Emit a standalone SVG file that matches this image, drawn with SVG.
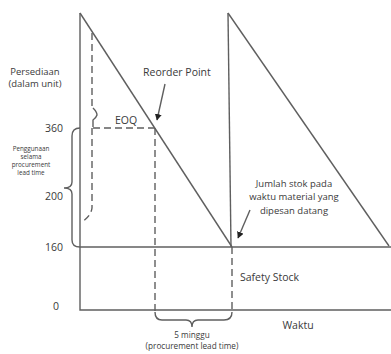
<svg xmlns="http://www.w3.org/2000/svg" width="391" height="354" viewBox="0 0 391 354">
<defs>
<style>
text{font-family:"Open Sans","Liberation Sans",sans-serif;fill:#3a3a3a}
.ln{stroke:#5f5f5f;stroke-width:1.4;fill:none}
.ds{stroke:#5f5f5f;stroke-width:1.4;fill:none;stroke-dasharray:7 4}
.lbl{font-size:9.5px}
.big{font-size:10.5px}
.ax{font-size:10.5px}
.sm{font-size:6.3px}
.lt{font-size:8.2px}
</style>
<marker id="ah" markerWidth="8" markerHeight="8" refX="6" refY="3.5" orient="auto" markerUnits="userSpaceOnUse">
<path d="M0,0 L6.5,3.5 L0,7 Z" fill="#222"/>
</marker>
</defs>
<rect width="391" height="354" fill="#fff"/>
<g id="connectors">
<path class="ln" d="M80,13 L80,310 L391,310"/>
<path class="ln" d="M80,247 L391,247"/>
<path class="ln" d="M80,13 L232,247"/>
<path class="ln" d="M228,13 L231,247"/>
<path class="ln" d="M228,13 L389,246"/>
<path class="ds" d="M92,33 L92,106"/>
<path class="ln" d="M93,108 Q97,112 97,115 Q96,118 93,120 L93,127"/>
<path class="ds" d="M93,128 L155,128"/>
<path class="ds" d="M92,128 L92,208 Q91,216 82,222"/>
<path class="ds" d="M155,128 L155,312"/>
<path class="ds" d="M232,247 L232,312"/>
<path class="ln" d="M155,312 Q155,320 162,320 L186,320 Q192,320 192,327 Q192,320 198,320 L224,320 Q232,320 232,312"/>
<path class="ln" d="M80,128 Q72,128 72,136 L72,182 Q72,188 64,188 Q72,188 72,194 L72,240 Q72,247 80,247"/>
<path class="ln" d="M165,84 L157,120" marker-end="url(#ah)"/>
<path class="ln" d="M250,210 L238,238" marker-end="url(#ah)"/>
</g>
<g id="axis-labels">
<text class="lbl" x="35" y="75" text-anchor="middle">Persediaan</text>
<text class="lbl" x="35" y="87" text-anchor="middle">(dalam unit)</text>
<text class="ax" x="63" y="132" text-anchor="end">360</text>
<text class="ax" x="63" y="200" text-anchor="end">200</text>
<text class="ax" x="63" y="251" text-anchor="end">160</text>
<text class="ax" x="59" y="310" text-anchor="end">0</text>
<text class="big" x="298" y="329" text-anchor="middle">Waktu</text>
</g>
<g id="penggunaan">
<text class="sm" x="31" y="151" text-anchor="middle">Penggunaan</text>
<text class="sm" x="31" y="159" text-anchor="middle">selama</text>
<text class="sm" x="31" y="167" text-anchor="middle">procurement</text>
<text class="sm" x="31" y="175" text-anchor="middle">lead time</text>
</g>
<g id="reorder-point">
<text class="big" x="143" y="76">Reorder Point</text>
</g>
<g id="eoq">
<text class="big" x="115" y="124">EOQ</text>
</g>
<g id="jumlah-stok">
<text class="lbl" x="294" y="187" text-anchor="middle">Jumlah stok pada</text>
<text class="lbl" x="294" y="200" text-anchor="middle">waktu material yang</text>
<text class="lbl" x="294" y="214" text-anchor="middle">dipesan datang</text>
</g>
<g id="safety-stock">
<text class="big" x="240" y="281">Safety Stock</text>
</g>
<g id="lead-time">
<text class="lt" x="192" y="338" text-anchor="middle">5 minggu</text>
<text class="lt" x="192" y="349" text-anchor="middle">(procurement lead time)</text>
</g>
</svg>
